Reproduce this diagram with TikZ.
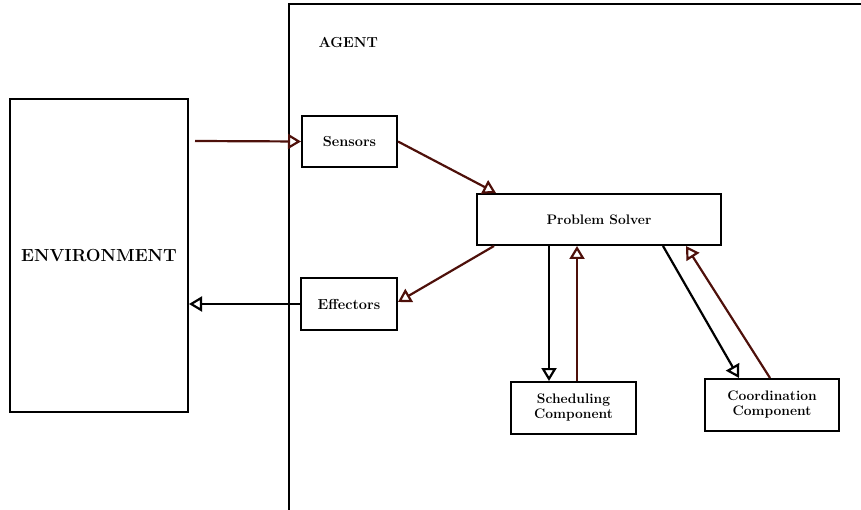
\documentclass[tikz,border=0pt]{standalone}
\usetikzlibrary{arrows.meta,calc}
\definecolor{brownred}{RGB}{78,16,10}
\begin{document}
\begin{tikzpicture}[x=1pt,y=-1pt,
  box/.style={draw=black,line width=2pt,fill=white,inner sep=0pt,align=center,font=\bfseries\fontsize{13.8}{15}\selectfont},
  arr/.style={line width=2.2pt,-{Triangle[open,length=13pt,width=15pt,line width=2.2pt]}},
  redarr/.style={arr,draw=brownred},
  blkarr/.style={arr,draw=black}]
\useasboundingbox (0,0) rectangle (861,510);
\draw[line width=2pt] (289,512) -- (289,4) -- (863,4);
\node[anchor=west,font=\bfseries\fontsize{14.5}{16}\selectfont] (agent) at (315,43) {AGENT};
\node[box,minimum width=178pt,minimum height=313pt,font=\bfseries\fontsize{17.5}{19}\selectfont] (env) at (99,255.5) {ENVIRONMENT};
\node[box,minimum width=95pt,minimum height=51pt,font=\bfseries\fontsize{14.5}{16}\selectfont] (sens) at (349.5,141.5) {Sensors};
\node[box,minimum width=96pt,minimum height=52pt,font=\bfseries\fontsize{14.5}{16}\selectfont] (eff) at (349,304) {Effectors};
\node[box,minimum width=244pt,minimum height=51pt] (ps) at (599,219.5) {Problem Solver};
\node[box,minimum width=125pt,minimum height=52pt] (sched) at (573.5,408) {Scheduling\\Component};
\node[box,minimum width=134pt,minimum height=52pt] (coord) at (772,405) {Coordination\\Component};
\coordinate (envout) at (195,141);
\draw[redarr] (envout) -- (sens.west);
\draw[redarr] (sens.east) -- ([xshift=20pt]ps.north west);
\draw[redarr] ([xshift=18pt]ps.south west) -- ([yshift=2pt]eff.east);
\draw[blkarr] (eff.west) -- (eff.west -| env.east);
\draw[blkarr] ([xshift=-24.5pt]sched.north |- ps.south) -- ([xshift=-24.5pt]sched.north);
\draw[redarr] ([xshift=3.5pt]sched.north) -- ([xshift=3.5pt]sched.north |- ps.south);
\draw[blkarr] ([xshift=-59pt]ps.south east) -- ([xshift=35pt]coord.north west);
\draw[redarr] ([xshift=66pt]coord.north west) -- ([xshift=-36pt]ps.south east);
\end{tikzpicture}
\end{document}
